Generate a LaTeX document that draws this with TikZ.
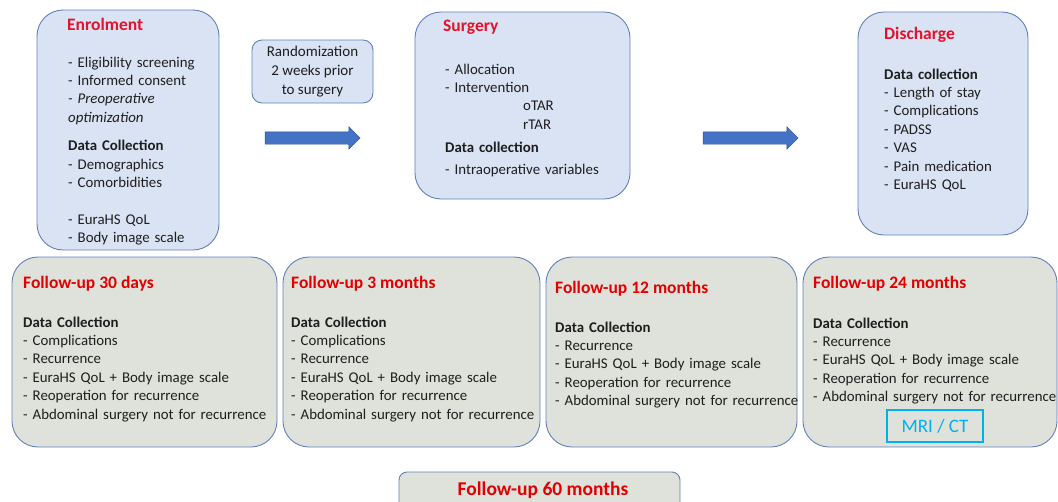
\documentclass[tikz,border=0pt]{standalone}
\usepackage{fontspec}
\setmainfont{Carlito}
\usepackage{tikz}
\usetikzlibrary{positioning,shapes.arrows}

\definecolor{boxblue}{RGB}{218,227,243}
\definecolor{edgeblue}{RGB}{98,128,186}
\definecolor{boxgray}{RGB}{222,226,218}
\definecolor{titlered}{RGB}{228,18,42}
\definecolor{fured}{RGB}{226,0,0}
\definecolor{arrowblue}{RGB}{68,114,196}
\definecolor{arrowedge}{RGB}{47,82,143}
\definecolor{mricyan}{RGB}{0,176,240}
\definecolor{bodyink}{RGB}{30,30,30}

\tikzset{
	stage/.style={draw=edgeblue, line width=0.9pt, rounded corners=26pt, fill=boxblue, inner sep=0pt},
	followup/.style={stage, fill=boxgray},
	heading/.style={anchor=base west, inner sep=0pt, font=\fontsize{17.5}{21}\selectfont\bfseries},
	items/.style={anchor=base west, inner sep=0pt, align=left, text width=300pt, text=bodyink, font=\fontsize{14.85}{18.4}\selectfont},
	bigarrow/.style={single arrow, draw=arrowedge, fill=arrowblue, minimum height=95pt, minimum width=22pt, single arrow head extend=5pt, inner sep=6pt}
}

\begin{document}
\begin{tikzpicture}[x=1pt,y=-1pt]
		
		\useasboundingbox (0,0) rectangle (1058,501);
		
		% top row
		\node[
		stage,
		minimum width=182,
		minimum height=240
		]
		(enrol)
		at (128,130)
		{};
		\node[heading,text=titlered] (enrolT) at (67,30) {Enrolment};
		\node[items] (enrolB) at (68,67)
		{- Eligibility screening\\
			- Informed consent\\
			\textit{- Preoperative}\\
			\textit{optimization}\\[10pt]
			\textbf{Data Collection}\\
			- Demographics\\
			- Comorbidities\\[18.4pt]
			- EuraHS QoL\\
			- Body image scale};
		
		\node[
		stage,
		rounded corners=10pt,
		minimum width=121,
		minimum height=63,
		align=center,
		text=bodyink,
		font=\fontsize{15}{19}\selectfont
		]
		(rand)
		at (312.5,71.5)
		{Randomization\\2 weeks prior\\to surgery};
		
		\node[
		stage,
		minimum width=215,
		minimum height=187
		]
		(surg)
		at (522.5,105.5)
		{};
		\node[heading,text=titlered] (surgT) at (443,31) {Surgery};
		\node[items] (surgB) at (445,74)
		{- Allocation\\
			- Intervention\\
			\hspace*{78pt}oTAR\\
			\hspace*{78pt}rTAR\\[4.5pt]
			\textbf{Data collection}\\[3.5pt]
			- Intraoperative variables};
		
		\node[
		stage,
		minimum width=170,
		minimum height=223
		]
		(disch)
		at (943,123.5)
		{};
		\node[heading,text=titlered] (dischT) at (884,39) {Discharge};
		\node[items] (dischB) at (884,79)
		{\textbf{Data collection}\\
			- Length of stay\\
			- Complications\\
			- PADSS\\
			- VAS\\
			- Pain medication\\
			- EuraHS QoL};
		
		\node[bigarrow] (arrA) at (309.5,138) {};
		\node[bigarrow] (arrB) at (747.5,138) {};
		
		% follow-up row
		\node[
		followup,
		minimum width=265,
		minimum height=190
		]
		(fu30)
		at (144.5,352)
		{};
		\node[heading,text=fured] (fu30T) at (23,288) {Follow-up 30 days};
		\node[items] (fu30B) at (23,327)
		{\textbf{Data Collection}\\
			- Complications\\
			- Recurrence\\
			- EuraHS QoL + Body image scale\\
			- Reoperation for recurrence\\
			- Abdominal surgery not for recurrence};
		
		\node[
		followup,
		minimum width=257,
		minimum height=190
		]
		(fu3)
		at (411.5,352)
		{};
		\node[heading,text=fured] (fu3T) at (291,288) {Follow-up 3 months};
		\node[items] (fu3B) at (291,327)
		{\textbf{Data Collection}\\
			- Complications\\
			- Recurrence\\
			- EuraHS QoL + Body image scale\\
			- Reoperation for recurrence\\
			- Abdominal surgery not for recurrence};
		
		\node[
		followup,
		minimum width=251,
		minimum height=190
		]
		(fu12)
		at (671.5,352)
		{};
		\node[heading,text=fured] (fu12T) at (555,293) {Follow-up 12 months};
		\node[items] (fu12B) at (555,332)
		{\textbf{Data Collection}\\
			- Recurrence\\
			- EuraHS QoL + Body image scale\\
			- Reoperation for recurrence\\
			- Abdominal surgery not for recurrence};
		
		\node[
		followup,
		minimum width=254,
		minimum height=190
		]
		(fu24)
		at (930,352)
		{};
		\node[heading,text=fured] (fu24T) at (813,288) {Follow-up 24 months};
		\node[items] (fu24B) at (813,328)
		{\textbf{Data Collection}\\
			- Recurrence\\
			- EuraHS QoL + Body image scale\\
			- Reoperation for recurrence\\
			- Abdominal surgery not for recurrence};
		
		\node[
		draw=mricyan,
		line width=1.5pt,
		minimum width=96,
		minimum height=32,
		text=mricyan,
		font=\fontsize{19}{22}\selectfont
		]
		(mri)
		at (935,426)
		{MRI / CT};
		
		\node[
		followup,
		rounded corners=8pt,
		minimum width=281,
		minimum height=56
		]
		(fu60)
		at (539.5,500)
		{};
		\node[
		inner sep=0pt,
		anchor=base,
		text=fured,
		font=\fontsize{19.5}{23}\selectfont\bfseries
		]
		(fu60T)
		at (543,495)
		{Follow-up 60 months};
		
	\end{tikzpicture}
\end{document}
